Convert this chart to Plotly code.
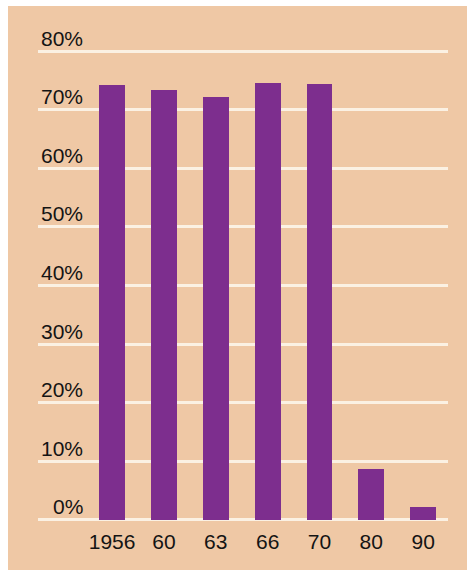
import plotly.graph_objects as go

# Share by survey year (percent)
years = ["1956", "60", "63", "66", "70", "80", "90"]
shares = [74.2, 73.4, 72.2, 74.6, 74.4, 8.7, 2.2]
y_ticks = [0, 10, 20, 30, 40, 50, 60, 70, 80]
y_tick_labels = [f"{v}%" for v in y_ticks]

PEACH = "#EFC8A5"
PURPLE = "#7D2E8E"
GRID = "#FBF1E3"
TEXT = "#141414"
FONT = "Liberation Sans, Arial, sans-serif"

x_pos = list(range(len(years)))

fig = go.Figure(
    go.Bar(
        x=x_pos,
        y=shares,
        width=0.5,
        marker=dict(color=PURPLE, line=dict(width=0)),
        hoverinfo="skip",
    )
)

# Percentage labels sit just above each gridline, right-aligned
annotations = [
    dict(
        x=0.1146, xref="paper", xanchor="right",
        y=v, yref="y", yanchor="middle", yshift=13,
        text=lab, showarrow=False,
        font=dict(family=FONT, size=21, color=TEXT),
    )
    for v, lab in zip(y_ticks, y_tick_labels)
]

fig.update_layout(
    width=467,
    height=570,
    margin=dict(l=38, r=19, t=40, b=40),
    paper_bgcolor="white",
    plot_bgcolor="rgba(0,0,0,0)",
    showlegend=False,
    bargap=0,
    annotations=annotations,
    shapes=[
        dict(
            type="rect", xref="paper", yref="paper", layer="below",
            x0=-30 / 410, x1=1 + 19 / 410,
            y0=-40 / 490, y1=1 + 34 / 490,
            fillcolor=PEACH, line=dict(width=0),
        )
    ],
    xaxis=dict(
        range=[-1.43, 6.48],
        tickmode="array",
        tickvals=x_pos,
        ticktext=years,
        showgrid=False,
        zeroline=False,
        showline=False,
        ticks="",
        ticklabelstandoff=-3,
        tickfont=dict(family=FONT, size=21, color=TEXT),
    ),
    yaxis=dict(
        range=[-1.71, 81.9],
        tickmode="array",
        tickvals=y_ticks,
        showticklabels=False,
        showgrid=True,
        gridcolor=GRID,
        gridwidth=3,
        zeroline=False,
        showline=False,
        ticks="",
        layer="below traces",
    ),
)

fig.write_html("out.html")
